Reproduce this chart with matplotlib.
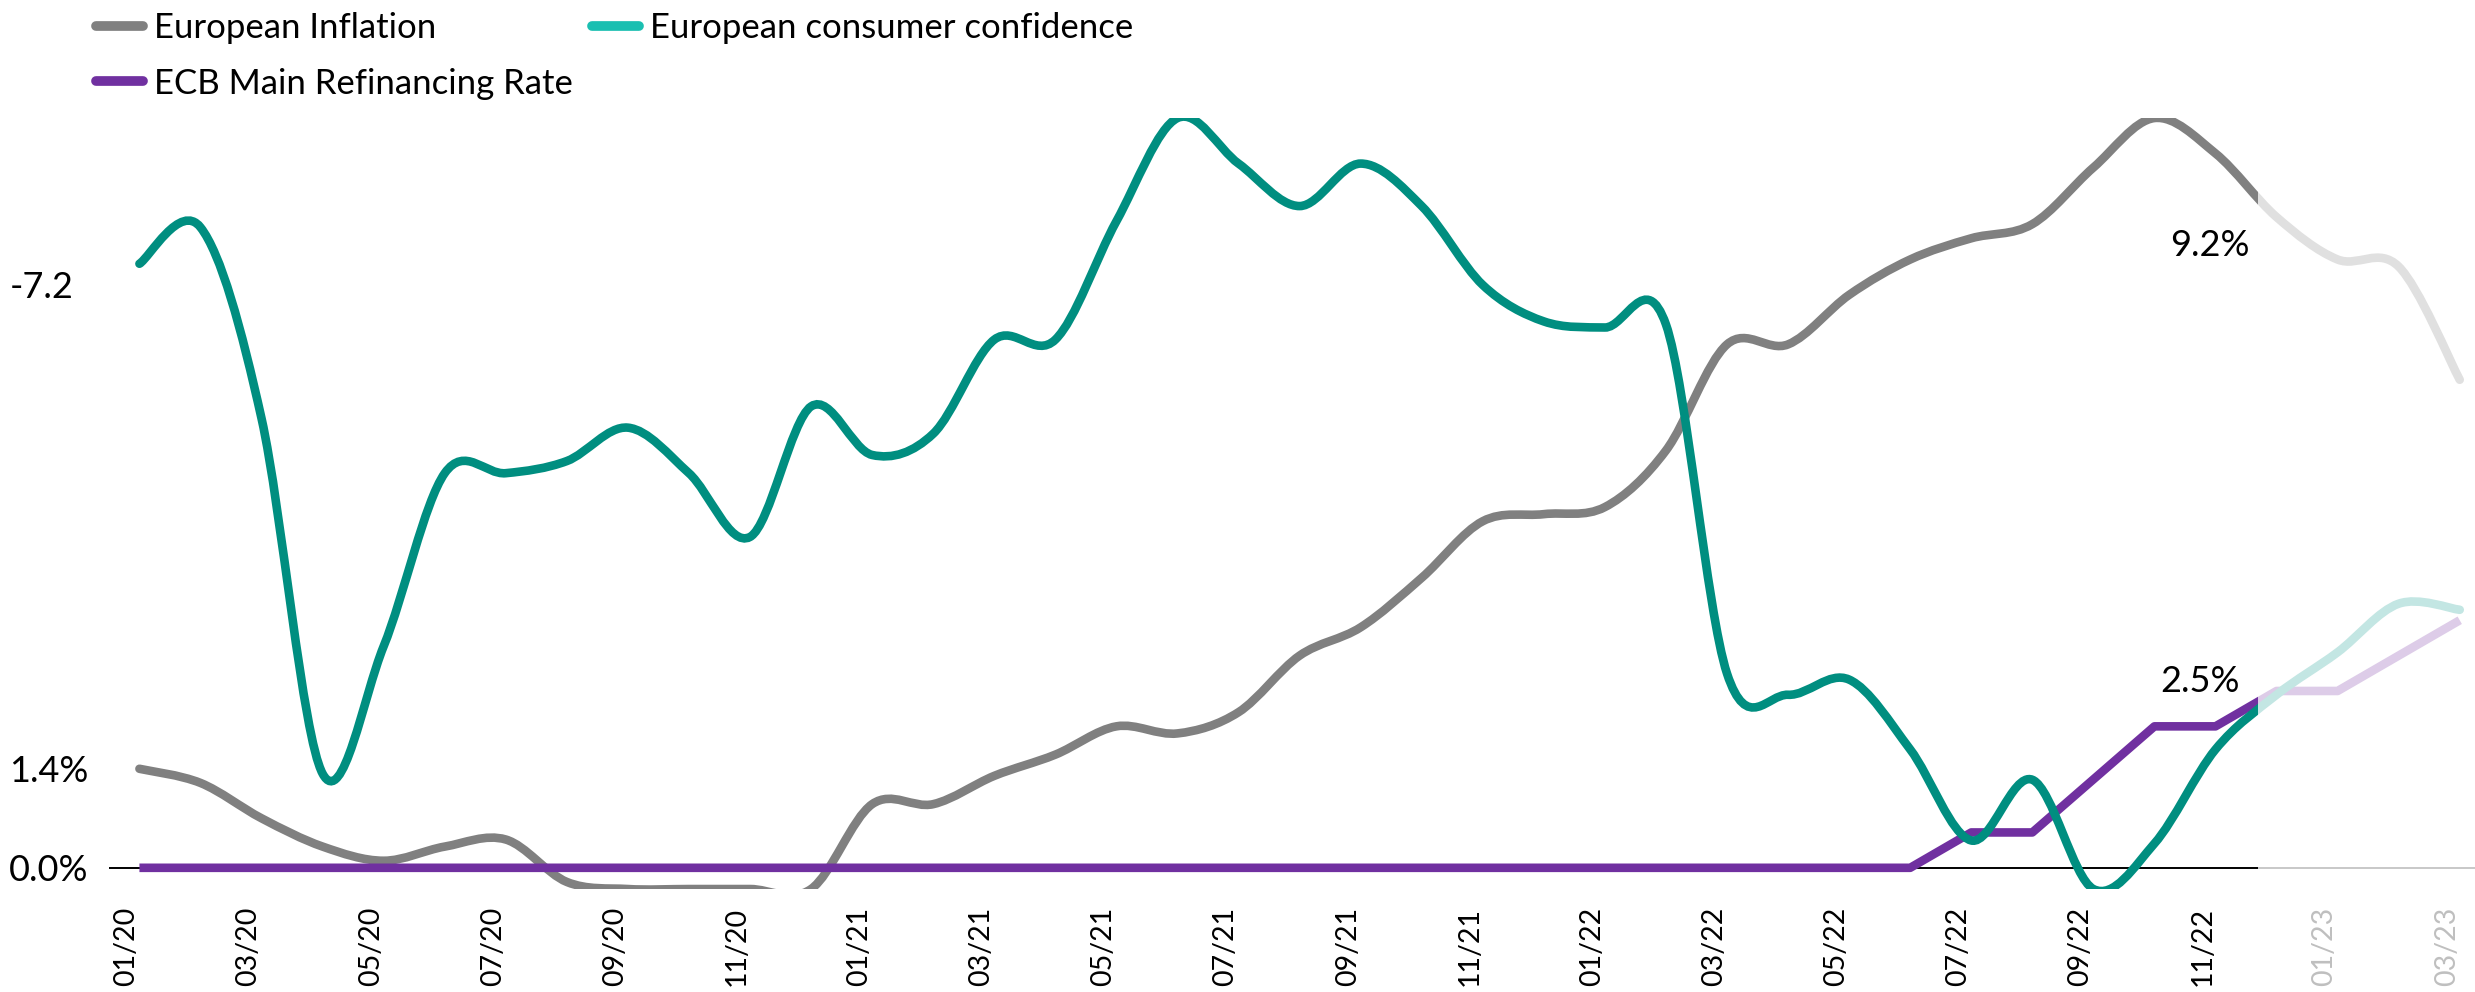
import matplotlib.pyplot as plt
import matplotlib.transforms as mtransforms
from matplotlib.path import Path
from matplotlib.patches import PathPatch, Rectangle
from matplotlib.lines import Line2D

plt.rcParams['font.family'] = ['Lato', 'DejaVu Sans']

# monthly data, 01/20 .. 03/23 (last three months are forecasts)
months = ['01/20', '02/20', '03/20', '04/20', '05/20', '06/20', '07/20', '08/20', '09/20', '10/20', '11/20', '12/20',
          '01/21', '02/21', '03/21', '04/21', '05/21', '06/21', '07/21', '08/21', '09/21', '10/21', '11/21', '12/21',
          '01/22', '02/22', '03/22', '04/22', '05/22', '06/22', '07/22', '08/22', '09/22', '10/22', '11/22', '12/22',
          '01/23', '02/23', '03/23']
inflation = [1.4, 1.2, 0.7, 0.3, 0.1, 0.3, 0.4, -0.2, -0.3, -0.3, -0.3, -0.3,
             0.9, 0.9, 1.3, 1.6, 2.0, 1.9, 2.2, 3.0, 3.4, 4.1, 4.9, 5.0,
             5.1, 5.9, 7.4, 7.4, 8.1, 8.6, 8.9, 9.1, 9.9, 10.6, 10.1, 9.2,
             8.6, 8.5, 6.9]
confidence = [-8.1, -6.9, -13.2, -24.9, -20.7, -15.0, -15.0, -14.6, -13.5, -15.0, -17.1, -12.8,
              -14.4, -13.7, -10.6, -10.6, -6.7, -3.3, -4.8, -6.2, -4.8, -6.2, -8.8, -10.0,
              -10.2, -10.1, -21.6, -22.3, -21.8, -24.1, -27.1, -25.1, -28.7, -27.2, -24.1, -22.3,
              -20.9, -19.3, -19.5]
ecb_rate = [0] * 30 + [0.5, 0.5, 1.25, 2.0, 2.0, 2.5, 2.5, 3.0, 3.5]
actual_end = 34.7  # dark lines stop here, forecast drawn pale

grey, grey_l = '#808080', '#E0E0E0'
teal, teal_l, teal_leg = '#008E80', '#C3E6E3', '#1ABFB1'
purple, purple_l = '#7030A0', '#DDCCE8'


def smooth_path(y):
    # catmull-rom -> cubic bezier, like Excel's "smoothed line"
    n = len(y)
    verts = [(0, y[0])]
    codes = [Path.MOVETO]
    for i in range(n - 1):
        i0, i3 = max(i - 1, 0), min(i + 2, n - 1)
        c1 = (i + (i + 1 - i0) / 6, y[i] + (y[i + 1] - y[i0]) / 6)
        c2 = (i + 1 - (i3 - i) / 6, y[i + 1] - (y[i3] - y[i]) / 6)
        verts += [c1, c2, (i + 1, y[i + 1])]
        codes += [Path.CURVE4] * 3
    return Path(verts, codes)


def draw_split(axis, make_artist, dark, light, z):
    trans = mtransforms.blended_transform_factory(axis.transData, axis.transAxes)
    for col, x0, x1 in [(light, actual_end, 40), (dark, -1, actual_end)]:
        art = make_artist(col)
        art.set_zorder(z)
        art.set_clip_path(Rectangle((x0, 0), x1 - x0, 1, transform=trans))


fig = plt.figure(figsize=(24.75, 9.92), dpi=100)
ax = fig.add_axes([0.044, 0.1038, 0.956, 0.7772])
ax2 = ax.twinx()
x = list(range(len(months)))

# zero line
ax.hlines(0, -0.6, actual_end, color='black', lw=1.4, zorder=1)
ax.hlines(0, actual_end, 40, color='#C8C8C8', lw=1.4, zorder=1)

draw_split(ax, lambda c: ax.add_patch(PathPatch(smooth_path(inflation), fill=False, ec=c, lw=6.2,
                                                capstyle='round')), grey, grey_l, 2)
draw_split(ax, lambda c: ax.plot(x, ecb_rate, color=c, lw=6.2, solid_capstyle='butt')[0], purple, purple_l, 3)
draw_split(ax2, lambda c: ax2.add_patch(PathPatch(smooth_path(confidence), fill=False, ec=c, lw=6.2,
                                                  capstyle='round')), teal, teal_l, 4)

ax.set_xlim(-0.5, 38.25)
ax.set_ylim(-0.3, 10.6)
ax2.set_ylim(-28.7, -3.3)
for a in (ax, ax2):
    for s in a.spines.values():
        s.set_visible(False)
ax2.set_yticks([])

ax.set_yticks([0, 1.4])
ax.set_yticklabels(['0.0%', '1.4%'])
ax.tick_params(axis='y', length=0, pad=15, labelsize=26)

ax.set_xticks(x[::2])
ax.set_xticklabels(months[::2], rotation=90)
ax.tick_params(axis='x', length=0, pad=13, labelsize=20.5)
for lab in ax.get_xticklabels():
    lab.set_ha('right')
    if lab.get_text().endswith('/23'):
        lab.set_color('#BFBFBF')

# value labels
ax.text(33.9, 8.8, '9.2%', fontsize=26, ha='center', va='center')
ax.text(33.75, 2.63, '2.5%', fontsize=26, ha='center', va='center')
fig.text(74 / 2475, 1 - 288 / 992, '-7.2', fontsize=26, ha='right', va='center')

handles = [Line2D([], [], color=grey, lw=7, solid_capstyle='round'),
           Line2D([], [], color=purple, lw=7, solid_capstyle='round'),
           Line2D([], [], color=teal_leg, lw=7, solid_capstyle='round')]
labels = ['European Inflation', 'ECB Main Refinancing Rate', 'European consumer confidence']
fig.legend(handles, labels, loc='upper left', bbox_to_anchor=(96 / 2475, 1 - 12 / 992), ncol=2,
           frameon=False, fontsize=25, handlelength=1.35, handletextpad=0.32, columnspacing=0.55,
           labelspacing=0.68, borderaxespad=0, borderpad=0)

fig.savefig('out.png', dpi=100)
